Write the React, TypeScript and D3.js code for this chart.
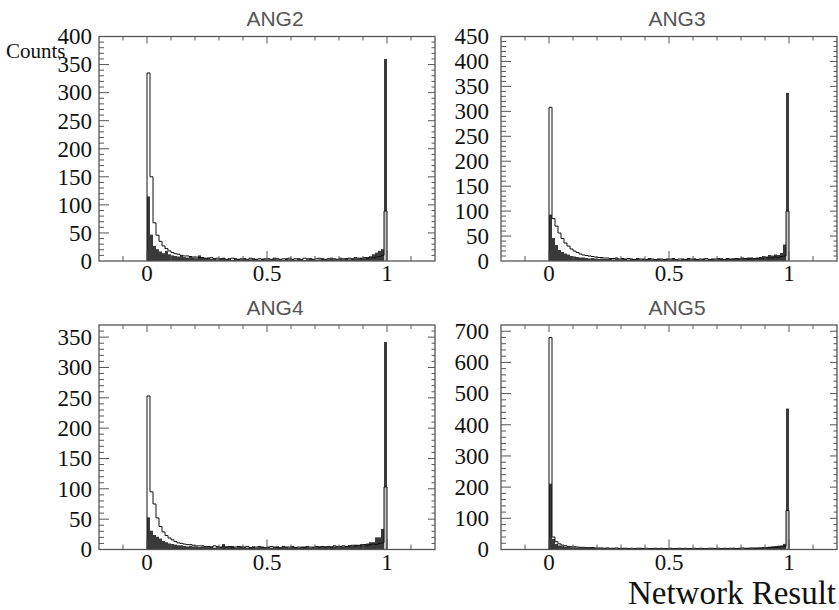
import * as d3 from 'd3';

// panel titles and y-axis settings
const titles = ['ANG2', 'ANG3', 'ANG4', 'ANG5'];
const yMaxes = [400, 450, 370, 720];
const yMajorSteps = [50, 50, 50, 100];
const yMinorSteps = [10, 10, 10, 20];
const xMajorTicks = [0, 0.5, 1];
const xTickLabels = ['0', '0.5', '1'];
const binWidth = 0.0125;

// open histograms (outline) and filled histograms - 80 bins on [0,1]
const ang2Open = [
  335, 150, 68, 46, 35, 27, 22, 18, 15, 13, 12, 10, 9, 9, 8, 7, 7, 6, 6, 5,
  5, 6, 4, 5, 4, 5, 3, 4, 5, 4, 3, 4, 4, 3, 5, 4, 3, 4, 3, 4,
  4, 3, 5, 4, 3, 4, 4, 5, 3, 4, 4, 3, 5, 4, 4, 3, 4, 5, 4, 3,
  4, 5, 4, 3, 5, 4, 4, 5, 4, 6, 5, 4, 6, 5, 7, 6, 7, 8, 10, 89,
];
const ang2Dark = [
  115, 47, 27, 21, 17, 14, 18, 12, 10, 9, 8, 9, 7, 6, 8, 6, 5, 10, 7, 5,
  6, 4, 5, 3, 4, 5, 3, 4, 2, 4, 3, 3, 4, 2, 3, 4, 3, 2, 4, 3,
  3, 2, 4, 3, 3, 2, 4, 3, 3, 2, 4, 3, 2, 3, 4, 3, 2, 3, 4, 3,
  3, 4, 3, 2, 4, 3, 5, 3, 4, 5, 4, 6, 5, 7, 8, 12, 15, 18, 21, 360,
];
const ang3Open = [
  308, 85, 70, 56, 45, 36, 30, 24, 20, 17, 14, 12, 11, 10, 9, 8, 7, 7, 6, 6,
  5, 5, 6, 4, 5, 4, 5, 4, 3, 5, 4, 4, 3, 5, 4, 3, 4, 4, 3, 4,
  4, 5, 3, 4, 4, 3, 5, 4, 4, 3, 4, 4, 5, 3, 4, 4, 5, 4, 3, 5,
  4, 4, 5, 4, 6, 5, 4, 6, 5, 5, 6, 5, 7, 6, 6, 8, 7, 9, 10, 100,
];
const ang3Dark = [
  93, 46, 32, 22, 18, 15, 13, 10, 9, 8, 7, 7, 6, 5, 6, 5, 4, 5, 4, 4,
  4, 3, 5, 3, 4, 4, 3, 4, 2, 4, 3, 4, 3, 4, 3, 2, 4, 3, 3, 4,
  3, 4, 3, 2, 4, 3, 4, 3, 5, 4, 3, 4, 3, 4, 4, 3, 4, 5, 3, 4,
  4, 5, 4, 5, 6, 5, 7, 6, 5, 7, 8, 10, 9, 12, 11, 13, 12, 16, 33, 337,
];
const ang4Open = [
  253, 95, 75, 52, 38, 29, 23, 19, 16, 13, 11, 10, 9, 8, 8, 7, 6, 6, 6, 5,
  5, 4, 6, 5, 4, 5, 4, 5, 3, 4, 5, 4, 4, 5, 3, 4, 4, 5, 4, 3,
  4, 5, 4, 4, 3, 5, 4, 4, 5, 3, 4, 4, 3, 5, 4, 4, 5, 4, 5, 4,
  5, 4, 6, 5, 5, 6, 5, 6, 7, 6, 7, 6, 8, 7, 8, 9, 8, 10, 11, 103,
];
const ang4Dark = [
  53, 31, 24, 21, 18, 14, 12, 10, 9, 8, 7, 7, 6, 5, 6, 5, 5, 4, 5, 4,
  4, 5, 3, 4, 4, 9, 5, 4, 6, 3, 4, 5, 4, 3, 4, 5, 3, 4, 4, 3,
  4, 3, 4, 5, 3, 4, 4, 3, 5, 4, 3, 4, 5, 4, 3, 4, 4, 5, 4, 5,
  4, 5, 5, 4, 6, 5, 6, 7, 6, 8, 7, 9, 9, 10, 12, 12, 20, 20, 34, 342,
];
const ang5Open = [
  680, 40, 25, 18, 14, 12, 10, 9, 9, 8, 7, 7, 6, 6, 6, 5, 5, 5, 4, 5,
  4, 4, 5, 3, 4, 4, 3, 4, 3, 4, 4, 3, 4, 3, 3, 4, 3, 4, 3, 3,
  4, 3, 3, 4, 3, 4, 3, 3, 4, 3, 4, 3, 3, 4, 4, 3, 4, 3, 4, 3,
  4, 4, 3, 4, 5, 4, 4, 5, 4, 5, 5, 6, 5, 6, 7, 7, 8, 9, 10, 125,
];
const ang5Dark = [
  211, 34, 18, 13, 11, 9, 8, 7, 7, 6, 6, 5, 5, 5, 8, 5, 4, 4, 4, 4,
  3, 4, 3, 3, 4, 3, 3, 2, 3, 3, 4, 3, 2, 3, 3, 3, 2, 3, 3, 2,
  3, 3, 2, 3, 3, 2, 3, 3, 2, 3, 3, 3, 2, 3, 3, 2, 3, 3, 4, 3,
  3, 4, 3, 4, 3, 4, 5, 4, 6, 5, 6, 7, 8, 9, 10, 11, 12, 13, 18, 452,
];

const openSeries = [ang2Open, ang3Open, ang4Open, ang5Open];
const darkSeries = [ang2Dark, ang3Dark, ang4Dark, ang5Dark];

const W = 839;
const H = 610;
const panelLefts = [99, 501, 99, 501];
const panelTops = [36.5, 36.5, 325, 325];
const panelW = 336;
const panelH = 224.5;
const axisColor = '#555';
const serif = '"Liberation Serif", "Times New Roman", serif';
const sans = '"Liberation Sans", Arial, sans-serif';

function Panel({ i }: { i: number }) {
  const left = panelLefts[i];
  const top = panelTops[i];
  const right = left + panelW;
  const bottom = top + panelH;
  const yMax = yMaxes[i];
  const open = openSeries[i];
  const dark = darkSeries[i];

  const x = d3.scaleLinear().domain([-0.2, 1.2]).range([left, right]);
  const y = d3.scaleLinear().domain([0, yMax]).range([bottom, top]);

  // step outline of the open histogram
  const pts: [number, number][] = [[0, 0]];
  open.forEach((v, k) => {
    pts.push([k * binWidth, v], [(k + 1) * binWidth, v]);
  });
  pts.push([open.length * binWidth, 0]);
  const line = d3
    .line<[number, number]>()
    .x((d) => x(d[0]))
    .y((d) => y(d[1]));

  const last = open.length - 1;
  const xMinor = d3.range(-1, 12).map((k) => k / 10);
  const isMajorX = (v: number) => xMajorTicks.some((m) => Math.abs(m - v) < 1e-6);

  const minorStep = yMinorSteps[i];
  const majorStep = yMajorSteps[i];
  const yTicks = d3.range(minorStep, yMax, minorStep);
  const yLabels = d3.range(0, yMax + 1, majorStep);
  const labelGap = i % 2 === 0 ? 7 : 12;

  return (
    <g>
      {dark.map((v, k) =>
        v > 0 ? (
          <rect
            key={'d' + k}
            x={x(k * binWidth)}
            y={y(v)}
            width={x((k + 1) * binWidth) - x(k * binWidth)}
            height={y(0) - y(v)}
            fill="#3a3a3a"
          />
        ) : null
      )}
      <rect
        x={x(last * binWidth)}
        y={y(open[last])}
        width={x((last + 1) * binWidth) - x(last * binWidth)}
        height={y(0) - y(open[last])}
        fill="#c4c4c4"
      />
      <path d={line(pts) || ''} fill="none" stroke="#111" strokeWidth={1} />

      <rect x={left} y={top} width={panelW} height={panelH} fill="none" stroke={axisColor} strokeWidth={1.3} />

      {xMinor.map((v) => {
        const major = isMajorX(v);
        return (
          <g key={'xt' + v}>
            <line x1={x(v)} x2={x(v)} y1={bottom} y2={bottom - (major ? 10 : 5)} stroke={axisColor} />
            <line x1={x(v)} x2={x(v)} y1={top} y2={top + (major ? 7 : 4)} stroke={axisColor} />
          </g>
        );
      })}
      {yTicks.map((v) => {
        const major = v % majorStep === 0;
        return (
          <g key={'yt' + v}>
            <line x1={left} x2={left + (major ? 10 : 5)} y1={y(v)} y2={y(v)} stroke={axisColor} />
            <line x1={right} x2={right - (major ? 7 : 3.5)} y1={y(v)} y2={y(v)} stroke={axisColor} />
          </g>
        );
      })}

      {yLabels.map((v) => (
        <text
          key={'yl' + v}
          x={left - labelGap}
          y={y(v)}
          dy="0.34em"
          textAnchor="end"
          fontFamily={serif}
          fontSize={23}
          fill="#111"
        >
          {v}
        </text>
      ))}
      {xMajorTicks.map((v, k) => (
        <text
          key={'xl' + v}
          x={x(v)}
          y={bottom + 20}
          textAnchor="middle"
          fontFamily={serif}
          fontSize={23}
          fill="#111"
        >
          {xTickLabels[k]}
        </text>
      ))}

      <text
        x={(left + right) / 2 + 8}
        y={top - 10.5}
        textAnchor="middle"
        fontFamily={sans}
        fontSize={21}
        fill="#555"
      >
        {titles[i]}
      </text>
    </g>
  );
}

export default function App() {
  return (
    <svg
      width={W}
      height={H}
      viewBox={`0 0 ${W} ${H}`}
      style={{ position: 'absolute', left: 0, top: 0, background: '#fff' }}
    >
      <rect width={W} height={H} fill="#fff" />
      {titles.map((t, i) => (
        <Panel key={t} i={i} />
      ))}
      <text x={6} y={58} fontFamily={serif} fontSize={21} fill="#111">
        Counts
      </text>
      <text x={836} y={604} textAnchor="end" fontFamily={serif} fontSize={33} fill="#111">
        Network Result
      </text>
    </svg>
  );
}
